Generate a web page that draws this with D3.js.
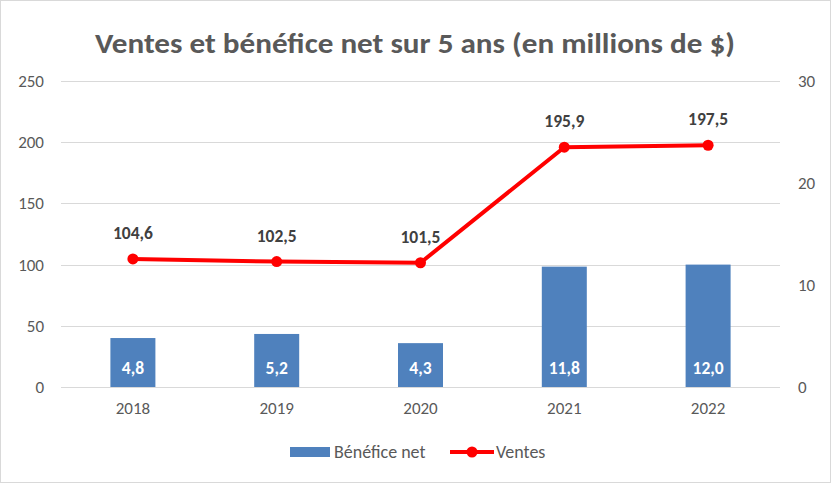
<!DOCTYPE html>
<html><head><meta charset="utf-8">
<script src="https://cdn.jsdelivr.net/npm/d3@7"></script>
<style>body{margin:0;background:#fff}svg{display:block}</style>
</head><body>
<svg id="c" width="831" height="483"></svg>
<script>
const years = ["2018","2019","2020","2021","2022"];
const ventes = [104.6,102.5,101.5,195.9,197.5];
const benefice = [4.8,5.2,4.3,11.8,12.0];
const leftTicks = [0,50,100,150,200,250];
const rightTicks = [0,10,20,30];
const title = "Ventes et bénéfice net sur 5 ans (en millions de $)";
const seriesNames = ["Bénéfice net","Ventes"];

const fmt = v => v.toFixed(1).replace(".", ",");
const svg = d3.select("#c");
const font = "Calibri, Carlito, Lato, sans-serif";
const grey = "#595959";

svg.append("rect").attr("x",0.5).attr("y",0.5).attr("width",830).attr("height",482)
  .attr("fill","#fff").attr("stroke","#d9d9d9");

const x0 = 61, x1 = 780, yTop = 81, yBot = 387;
const x = d3.scaleBand().domain(years).range([x0,x1]);
const yL = d3.scaleLinear().domain([0,250]).range([yBot,yTop]);
const yR = d3.scaleLinear().domain([0,30]).range([yBot,yTop]);

// title
svg.append("text").attr("x",415).attr("y",53).attr("text-anchor","middle")
  .attr("font-family",font).attr("font-weight","bold").attr("font-size",28)
  .attr("fill",grey).attr("textLength",640).attr("lengthAdjust","spacingAndGlyphs").text(title);

// gridlines
svg.append("g").selectAll("line").data(leftTicks).join("line")
  .attr("x1",x0).attr("x2",x1).attr("y1",d=>Math.round(yL(d))+0.5).attr("y2",d=>Math.round(yL(d))+0.5)
  .attr("stroke","#d9d9d9").attr("stroke-width",1);

// left axis
const gl = svg.append("g").attr("transform",`translate(${x0},0)`)
  .call(d3.axisLeft(yL).tickValues(leftTicks).tickSize(0).tickPadding(17));
gl.select(".domain").remove();
gl.selectAll("text").attr("font-family",font).attr("font-size",17).attr("fill",grey);

// right axis
const gr = svg.append("g").attr("transform",`translate(${x1},0)`)
  .call(d3.axisRight(yR).tickValues(rightTicks).tickSize(0).tickPadding(18));
gr.select(".domain").remove();
gr.selectAll("text").attr("font-family",font).attr("font-size",17).attr("fill",grey);

// bottom axis
const gb = svg.append("g").attr("transform",`translate(0,${yBot})`)
  .call(d3.axisBottom(x).tickSize(0).tickPadding(15));
gb.select(".domain").remove();
gb.selectAll("text").attr("font-family",font).attr("font-size",17).attr("fill",grey);

// bars
const bw = 45;
svg.append("g").selectAll("rect").data(benefice).join("rect")
  .attr("x",(d,i)=>x(years[i])+x.bandwidth()/2-bw/2).attr("width",bw)
  .attr("y",d=>yR(d)).attr("height",d=>yBot-yR(d)).attr("fill","#4F81BD");
svg.append("g").selectAll("text").data(benefice).join("text")
  .attr("x",(d,i)=>x(years[i])+x.bandwidth()/2).attr("y",yBot-13)
  .attr("text-anchor","middle").attr("font-family",font).attr("font-weight","bold")
  .attr("font-size",17.5).attr("fill","#fff").text(d=>fmt(d));

// line
const line = d3.line().x((d,i)=>x(years[i])+x.bandwidth()/2).y(d=>yL(d));
svg.append("path").datum(ventes).attr("d",line).attr("fill","none")
  .attr("stroke","#FF0000").attr("stroke-width",4).attr("stroke-linejoin","round");
svg.append("g").selectAll("circle").data(ventes).join("circle")
  .attr("cx",(d,i)=>x(years[i])+x.bandwidth()/2).attr("cy",d=>yL(d)).attr("r",5.5).attr("fill","#FF0000");
svg.append("g").selectAll("text").data(ventes).join("text")
  .attr("x",(d,i)=>x(years[i])+x.bandwidth()/2).attr("y",d=>yL(d)-20)
  .attr("text-anchor","middle").attr("font-family",font).attr("font-weight","bold")
  .attr("font-size",17.5).attr("fill","#404040").text(d=>fmt(d));

// legend
const lg = svg.append("g");
lg.append("rect").attr("x",290).attr("y",447).attr("width",40).attr("height",10).attr("fill","#4F81BD");
lg.append("text").attr("x",334).attr("y",458).attr("font-family",font).attr("font-size",18).attr("fill",grey).text(seriesNames[0]);
lg.append("line").attr("x1",450).attr("x2",494).attr("y1",452).attr("y2",452).attr("stroke","#FF0000").attr("stroke-width",4);
lg.append("circle").attr("cx",472).attr("cy",452).attr("r",5.5).attr("fill","#FF0000");
lg.append("text").attr("x",496).attr("y",458).attr("font-family",font).attr("font-size",18).attr("fill",grey).text(seriesNames[1]);
</script>
</body></html>
